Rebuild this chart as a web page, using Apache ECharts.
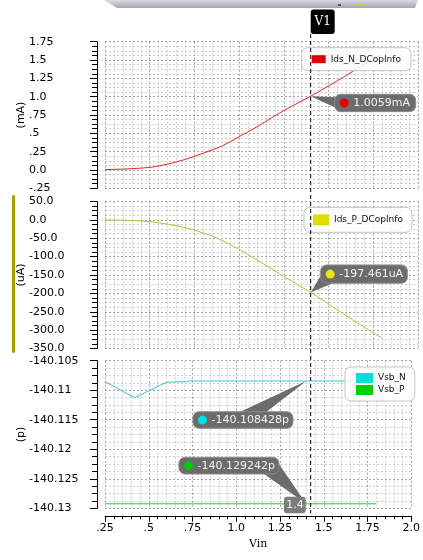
<!DOCTYPE html>
<html><head><meta charset="utf-8">
<script src="https://cdn.jsdelivr.net/npm/echarts@6/dist/echarts.min.js"></script>
<style>html,body{margin:0;padding:0;background:#fff;overflow:hidden}#c{width:423px;height:560px}</style>
</head><body><div id="c"></div>
<script>
// ---- data ----
const vin = [0.25,0.30,0.35,0.40,0.45,0.50,0.55,0.60,0.65,0.70,0.75,0.80,0.85,0.90,0.95,1.00,1.05,1.10,1.15,1.20,1.25,1.30,1.35,1.40,1.45,1.50,1.55,1.60,1.65,1.70,1.75,1.80];
const idsN = [0.005,0.008,0.012,0.018,0.025,0.035,0.055,0.08,0.11,0.145,0.185,0.23,0.275,0.322,0.385,0.455,0.52,0.59,0.665,0.738,0.81,0.877,0.942,1.0059,1.076,1.147,1.218,1.29,1.37,1.44,1.51,1.58];
const idsP = [0,-0.3,-0.8,-1.8,-3,-5,-8,-11.5,-16,-21.5,-28,-35.5,-44.5,-55,-67,-80,-95,-109,-124,-139,-154,-168,-183,-197.461,-213,-229,-245,-261,-277,-292,-307,-322];
const vsbNVin = [0.25,0.42,0.60,0.71,0.73,1.00,1.40,1.80];
const vsbN = [-140.10856,-140.11127,-140.10866,-140.10855,-140.108428,-140.108428,-140.108428,-140.108428];
const vsbPVin = [0.25,1.00,1.40,1.80];
const vsbP = [-140.129242,-140.129242,-140.129242,-140.129242];

const xTickLabels = ['.25','.5','.75','1.0','1.25','1.5','1.75','2.0'];
const yTickLabelsN = ['-.25','0.0','.25','.5','.75','1.0','1.25','1.5','1.75'];
const yTickLabelsP = ['-350.0','-300.0','-250.0','-200.0','-150.0','-100.0','-50.0','0.0','50.0'];
const yTickLabelsV = ['-140.13','-140.125','-140.12','-140.115','-140.11','-140.105'];

const seriesNames = ['Ids_N_DCopInfo','Ids_P_DCopInfo','Vsb_N','Vsb_P'];
const unitNames = ['(mA)','(uA)','(p)'];
const cursorName = 'V1';
const cursorVin = 1.4;
const cursorVinLabel = '1.4';
const cursorValues = [1.0059,-197.461,-140.108428,-140.129242];
const cursorLabels = ['1.0059mA','-197.461uA','-140.108428p','-140.129242p'];

// ---- style ----
const FONT = 'DejaVu Sans';
const lineColors = ['#e8241c','#bcbc3c','#3cc6c6','#2ec02e'];
const iconColors = ['#e00000','#dede00','#00dede','#00d000'];
const dotColors  = ['#e80000','#e8e800','#00e0e0','#00cc00'];

const pairs = (xs, ys) => xs.map((x,i)=>[x,ys[i]]);
const labelFmt = (labels, min, step) => v => { const i = Math.round((v-min)/step); return labels[i] !== undefined ? labels[i] : ''; };

const grids = [
  {left:105, right:5, top:41.7, height:146.6},
  {left:105, right:5, top:201.5, height:147},
  {left:105, right:5, top:360.7, height:147.6}
];
const yDefs = [
  {min:-0.25, max:1.75, interval:0.25, labels:yTickLabelsN},
  {min:-350, max:50, interval:50, labels:yTickLabelsP},
  {min:-140.13, max:-140.105, interval:0.005, labels:yTickLabelsV}
];

const splitLine = {show:true, lineStyle:{color:'#a4a4a4', width:1, type:[2,2]}};
const minorSplitLine = {show:true, lineStyle:{color:'#cdcdcd', width:1, type:[2,2]}};

const xAxes = grids.map((g,i)=>({
  type:'value', gridIndex:i, min:0.25, max:2.0, interval:0.25,
  offset: i===2 ? 7.5 : 0,
  axisLine:{show:i===2, onZero:false, lineStyle:{color:'#000', width:1}},
  axisTick:{show:i===2, length:6, lineStyle:{color:'#000'}},
  minorTick:{show:i===2, splitNumber:5, length:3.5, lineStyle:{color:'#000'}},
  axisLabel:{show:i===2, margin:7, color:'#000', fontFamily:FONT, fontSize:11, formatter:labelFmt(xTickLabels,0.25,0.25)},
  splitLine, minorSplitLine,
  name: i===2 ? 'Vin' : '', nameLocation:'middle', nameGap:23, nameMoveOverlap:false,
  nameTextStyle:{fontFamily:'DejaVu Serif', fontSize:11, color:'#000'}
}));
const yAxes = grids.map((g,i)=>({
  type:'value', gridIndex:i, min:yDefs[i].min, max:yDefs[i].max, interval:yDefs[i].interval,
  offset:8,
  axisLine:{show:true, onZero:false, lineStyle:{color:'#000', width:1}},
  axisTick:{show:true, length:7, lineStyle:{color:'#000'}},
  minorTick:{show:true, splitNumber:4, length:5, lineStyle:{color:'#000'}},
  axisLabel:{align:'left', margin:68, color:'#000', fontFamily:FONT, fontSize:11,
    formatter:labelFmt(yDefs[i].labels, yDefs[i].min, yDefs[i].interval)},
  splitLine, minorSplitLine,
  name:unitNames[i], nameLocation:'middle', nameGap:70, nameRotate:90, nameMoveOverlap:false,
  nameTextStyle:{fontFamily:FONT, fontSize:11, color:'#000'}
}));

const mkSeries = (name, data, idx, grid) => ({
  name, type:'line', xAxisIndex:grid, yAxisIndex:grid, data, showSymbol:false, symbol:'none',
  lineStyle:{color:lineColors[idx], width:1}, itemStyle:{color:iconColors[idx]},
  animation:false, silent:true, z:3
});

const legendBase = {
  icon:'rect', selectedMode:false,
  backgroundColor:'rgba(255,255,255,0.82)', borderColor:'#c4c4c4', borderWidth:1, borderRadius:6,
  textStyle:{fontFamily:FONT, fontSize:9, color:'#111'}
};

const option = {
  animation:false,
  backgroundColor:'#fff',
  grid:grids,
  xAxis:xAxes,
  yAxis:yAxes,
  legend:[
    Object.assign({}, legendBase, {data:[seriesNames[0]], left:301.7, top:47.7, padding:[7,10,7,10], itemWidth:14, itemHeight:8}),
    Object.assign({}, legendBase, {data:[seriesNames[1]], left:304, top:207.3, padding:[7,9,7,9], itemWidth:16, itemHeight:11}),
    Object.assign({}, legendBase, {data:[seriesNames[2],seriesNames[3]], orient:'vertical', left:345, top:367, padding:[6,9,6,11], itemWidth:17, itemHeight:10, itemGap:2})
  ],
  series:[
    mkSeries(seriesNames[0], pairs(vin, idsN), 0, 0),
    mkSeries(seriesNames[1], pairs(vin, idsP), 1, 1),
    mkSeries(seriesNames[2], pairs(vsbNVin, vsbN), 2, 2),
    mkSeries(seriesNames[3], pairs(vsbPVin, vsbP), 3, 2)
  ]
};

const chart = echarts.init(document.getElementById('c'), null, {renderer:'canvas'});
chart.setOption(option);

// ---- annotations derived from data via axes ----
const P = [0,1,2,2].map((g,k)=>chart.convertToPixel({gridIndex:g}, [cursorVin, cursorValues[k]]));
const cx = P[0][0];
const gBottom = chart.convertToPixel({gridIndex:2}, [cursorVin, yDefs[2].min])[1];

const BOX = '#6c6c6c';
const els = [];
// toolbar remnant at top
els.push({type:'polygon', shape:{points:[[104,0],[418,0],[415,8],[117,8]]},
  style:{fill:new echarts.graphic.LinearGradient(0,0,0,1,[{offset:0,color:'#d8dbe0'},{offset:1,color:'#a3a7ae'}])}, z:100});
els.push({type:'rect', shape:{x:338,y:4,width:3,height:2}, style:{fill:'#555'}, z:101});
els.push({type:'rect', shape:{x:358,y:4,width:5,height:2}, style:{fill:'#d8c800'}, z:101});
// olive side bar
els.push({type:'rect', shape:{x:12,y:195,width:3,height:158,r:1.5}, style:{fill:'#a0a000'}, z:100});
// cursor line
els.push({type:'line', shape:{x1:cx,y1:34,x2:cx,y2:gBottom+5}, style:{stroke:'#000', lineWidth:1, lineDash:[4,3]}, z:100});
// V1 label
els.push({type:'rect', shape:{x:cx,y:9.5,width:24,height:24.5,r:3}, style:{fill:'#000'}, z:101});
els.push({type:'text', x:cx+12, y:22, style:{text:cursorName, fill:'#fff', font:'12px "DejaVu Serif"', align:'center', verticalAlign:'middle'}, z:102});

function callout(p, box, wedge, k){
  els.push({type:'polygon', shape:{points:[p].concat(wedge.map(w=>[box.x+w[0], box.y+w[1]]))}, style:{fill:BOX}, z:110});
  els.push({type:'rect', shape:{x:box.x,y:box.y,width:box.w,height:box.h,r:6}, style:{fill:BOX, stroke:'#8c8c8c', lineWidth:1}, z:111});
  els.push({type:'circle', shape:{cx:box.x+9.5, cy:box.y+box.h/2, r:4.5}, style:{fill:dotColors[k]}, z:112});
  els.push({type:'text', x:box.x+18.5, y:box.y+box.h/2+0.5, style:{text:cursorLabels[k], fill:'#f4f4f4', font:'11px "DejaVu Sans"', align:'left', verticalAlign:'middle'}, z:112});
}
callout(P[0], {x:P[0][0]+24, y:P[0][1]-2, w:81, h:17.4}, [[2,3],[2,14]], 0);
callout(P[1], {x:P[1][0]+10, y:P[1][1]-27.5, w:86.7, h:18.3}, [[1,9],[15,17]], 1);
callout(P[2], {x:P[2][0]-113.3, y:P[2][1]+30.8, w:100, h:16.6}, [[43,2],[71,2]], 2);
callout(P[3], {x:P[3][0]-127.3, y:P[3][1]-46.5, w:100, h:16.7}, [[98,4],[84,16]], 3);
// x cursor value box
els.push({type:'rect', shape:{x:cx-26.7, y:gBottom-11.6, width:21.7, height:16.6, r:3}, style:{fill:'#7c7c7c'}, z:111});
els.push({type:'text', x:cx-15.8, y:gBottom-3.1, style:{text:cursorVinLabel, fill:'#f4f4f4', font:'11px "DejaVu Sans"', align:'center', verticalAlign:'middle'}, z:112});

chart.setOption({graphic:{elements:els}});
</script>
</body></html>
